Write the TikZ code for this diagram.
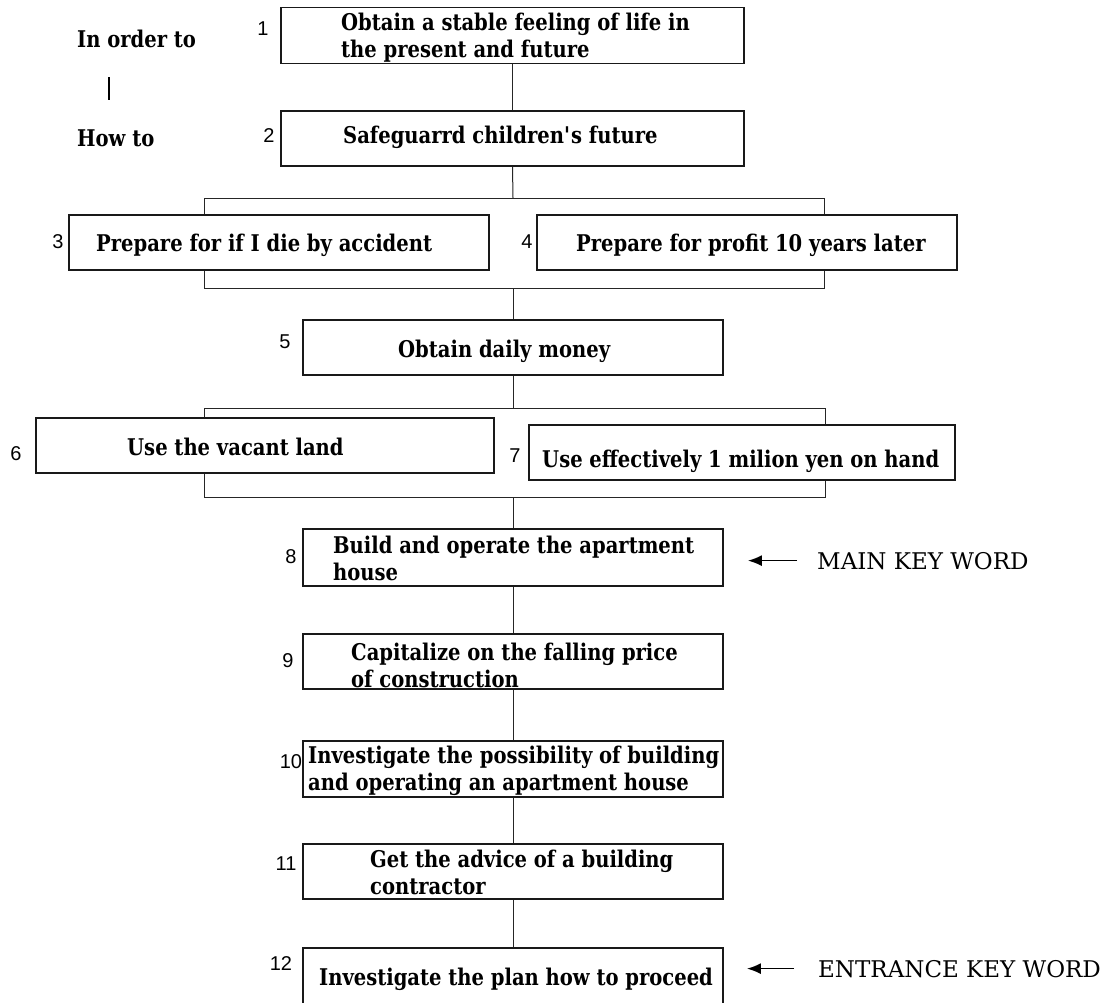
\documentclass[tikz,border=0pt]{standalone}
\usepackage{fontspec}
\setmainfont{DejaVu Serif}
\newfontfamily\boxfont{DejaVu Serif}[FakeStretch=0.85]
\newfontfamily\numfont{Liberation Sans}
\usetikzlibrary{arrows.meta}
\begin{document}
\begin{tikzpicture}[x=1pt,y=-1pt,
  box/.style={draw=black!90, line width=1.8pt, rectangle, inner sep=0pt},
  conn/.style={draw=black!85, line width=1.0pt},
  txt/.style={inner sep=0pt, anchor=base west, font=\fontsize{23}{27}\selectfont\boxfont\bfseries},
  mtxt/.style={inner sep=0pt, anchor=north west, align=left, font=\fontsize{23}{27}\selectfont\boxfont\bfseries},
  num/.style={inner sep=0pt, anchor=base, font=\fontsize{20}{24}\selectfont\numfont},
  key/.style={inner sep=0pt, anchor=base west, font=\fontsize{23}{27}\selectfont},
  karrow/.style={line width=1.6pt, -{Latex[length=14pt,width=11pt]}}
]
\useasboundingbox[fill=white] (0,0) rectangle (1109,1002);
\clip (0,0) rectangle (1109,1002);

% boxes
\node[box, minimum width=463pt, minimum height=56pt] (b1) at (512.5,35.5) {};
\node[box, minimum width=463pt, minimum height=55pt] (b2) at (512.5,138.5) {};
\node[box, minimum width=420pt, minimum height=55pt] (b3) at (279,242.5) {};
\node[box, minimum width=420pt, minimum height=55pt] (b4) at (747,242.5) {};
\node[box, minimum width=420pt, minimum height=55pt] (b5) at (513,347.5) {};
\node[box, minimum width=458pt, minimum height=55pt] (b6) at (265,445.5) {};
\node[box, minimum width=426pt, minimum height=55pt] (b7) at (742,452.5) {};
\node[box, minimum width=420pt, minimum height=57pt] (b8) at (513,557.5) {};
\node[box, minimum width=420pt, minimum height=55pt] (b9) at (513,661.5) {};
\node[box, minimum width=420pt, minimum height=56pt] (b10) at (513,769) {};
\node[box, minimum width=420pt, minimum height=55pt] (b11) at (513,871.5) {};
\node[box, minimum width=420pt, minimum height=62pt] (b12) at (513,979) {};

% bracket coordinates
\coordinate (t1) at (513,198); \coordinate (t1L) at (204,198); \coordinate (t1R) at (824,198);
\coordinate (u1) at (513,288); \coordinate (u1L) at (204,288); \coordinate (u1R) at (824,288);
\coordinate (t2) at (513,408); \coordinate (t2L) at (204,408); \coordinate (t2R) at (825,408);
\coordinate (u2) at (513,497); \coordinate (u2L) at (204,497); \coordinate (u2R) at (825,497);

% connectors
\draw[conn] (b1.south) -- (b2.north);
\draw[conn] (b2.south) -- (t1);
\draw[conn] (t1L |- b3.north) -- (t1L) -- (t1R) -- (t1R |- b4.north);
\draw[conn] (u1L |- b3.south) -- (u1L) -- (u1R) -- (u1R |- b4.south);
\draw[conn] (u1) -- (b5.north);
\draw[conn] (b5.south) -- (t2);
\draw[conn] (t2L |- b6.north) -- (t2L) -- (t2R) -- (t2R |- b7.north);
\draw[conn] (u2L |- b6.south) -- (u2L) -- (u2R) -- (u2R |- b7.south);
\draw[conn] (u2) -- (b8.north);
\draw[conn] (b8.south) -- (b9.north);
\draw[conn] (b9.south) -- (b10.north);
\draw[conn] (b10.south) -- (b11.north);
\draw[conn] (b11.south) -- (b12.north);

% texts (north = first baseline - 17.5)
\node[mtxt] (x1) at (341,12.5) {Obtain a stable feeling of life in\\the present and future};
\node[txt] (x2) at (343,143) {Safeguarrd children\textquotesingle s future};
\node[txt] (x3) at (96,251) {Prepare for if I die by accident};
\node[txt] (x4) at (576,251) {Prepare for profit 10 years later};
\node[txt] (x5) at (398,357) {Obtain daily money};
\node[txt] (x6) at (127,455) {Use the vacant land};
\node[txt] (x7) at (542,467) {Use effectively 1 milion yen on hand};
\node[mtxt] (x8) at (333,535.5) {Build and operate the apartment\\house};
\node[mtxt] (x9) at (351,642.5) {Capitalize on the falling price\\of construction};
\node[mtxt] (x10) at (308,745.5) {Investigate the possibility of building\\and operating an apartment house};
\node[mtxt] (x11) at (370,849.5) {Get the advice of a building\\contractor};
\node[txt] (x12) at (319,985) {Investigate the plan how to proceed};

% left labels
\node[txt] (inorder) at (77,47) {In order to};
\node[txt] (howto) at (77,146) {How to};
\draw[line width=1.3pt] (109,77) -- (109,100);

% numbers
\node[num] (n1) at (263,35) {1};
\node[num] (n2) at (269,142) {2};
\node[num] (n3) at (58,248) {3};
\node[num] (n4) at (527,248) {4};
\node[num] (n5) at (285,348) {5};
\node[num] (n6) at (16,460) {6};
\node[num] (n7) at (515,462) {7};
\node[num] (n8) at (291,563) {8};
\node[num] (n9) at (288,667) {9};
\node[num] (n10) at (291,768) {10};
\node[num] (n11) at (286,870) {11};
\node[num] (n12) at (281,970) {12};

% key words
\node[key] (kmain) at (817,569) {MAIN KEY WORD};
\node[key] (kentr) at (818,977) {ENTRANCE KEY WORD};
\draw[karrow, shorten <=20pt, shorten >=24pt] (kmain.west) -- (kmain.west -| b8.east);
\draw[karrow, shorten <=24pt, shorten >=23pt] (kentr.west) -- (kentr.west -| b12.east);
\end{tikzpicture}
\end{document}
